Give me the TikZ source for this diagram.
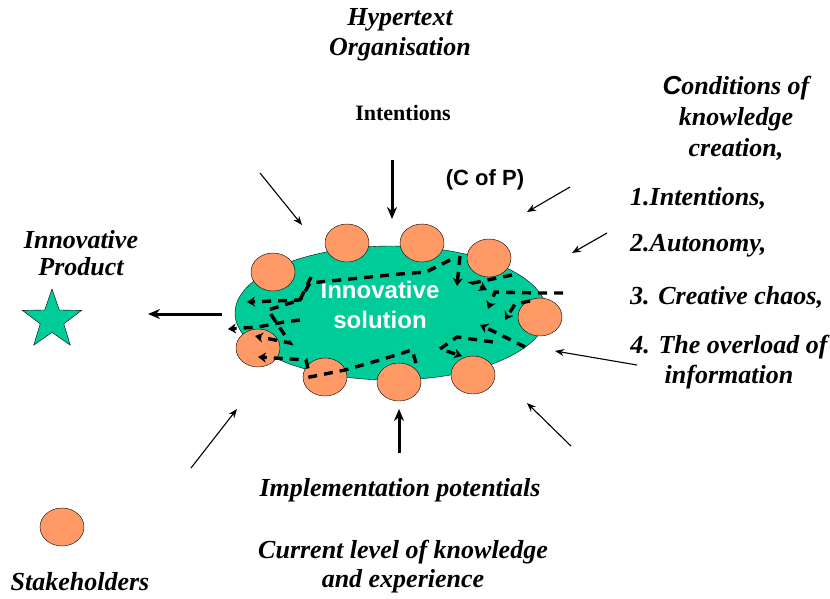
\documentclass[tikz,border=0pt]{standalone}
\usepackage{fontspec}
\setmainfont{Liberation Serif}
\setsansfont{Liberation Sans}
\usetikzlibrary{shapes.geometric,arrows.meta}
\definecolor{solgreen}{RGB}{0,204,153}
\definecolor{peach}{RGB}{255,153,102}

\begin{document}
\begin{tikzpicture}[x=1pt, y=-1pt,
    caption/.style={font=\fontsize{26}{30}\selectfont\bfseries\itshape, align=center, inner sep=0pt},
    member/.style={draw, ellipse, fill=peach, minimum width=44pt, minimum height=38pt, inner sep=0pt},
    pointer/.style={-{Stealth[length=9pt,width=7pt]}, line width=1.1pt},
    bigpointer/.style={-{Stealth[length=12pt,width=10pt]}, line width=3pt},
    flow/.style={-{Stealth[length=8pt,width=10pt]}, line width=3.4pt, dash pattern=on 9pt off 7pt}]
    \useasboundingbox (0,0) rectangle (830,598);

    % the innovative solution with its members
    \node[draw, ellipse, fill=solgreen, minimum width=312pt, minimum height=134pt] (solution) at (391,313) {};
    \node[member] (c1) at (273,272) {};
    \node[member] (c2) at (347,243) {};
    \node[member] (c3) at (422,243) {};
    \node[member] (c4) at (489,258) {};
    \node[member] (c5) at (540,317) {};
    \node[member] (c6) at (473,375) {};
    \node[member] (c7) at (399,382) {};
    \node[member] (c8) at (325,377) {};
    \node[member] (c9) at (258,348) {};
    \node[font=\fontsize{24}{30}\selectfont\sffamily\bfseries, text=white, align=center, inner sep=0pt] (sollabel) at (380,305) {Innovative\\solution};

    % knowledge flowing inside, in no good order
    \coordinate (ra) at (563,293);  \coordinate (ta) at (488,309);
    \coordinate (rb) at (530,301);  \coordinate (tb) at (505,320);
    \coordinate (rc) at (525,347);  \coordinate (tc) at (480,325);
    \coordinate (rd) at (460,256);  \coordinate (td) at (457,286);
    \coordinate (re) at (450,260);  \coordinate (te) at (247,302);
    \coordinate (rf) at (493,342);  \coordinate (tf) at (462,356);
    \coordinate (rg) at (416,363);  \coordinate (tg) at (258,357);
    \coordinate (rh) at (300,320);  \coordinate (th) at (228,329);
    \coordinate (ri) at (512,275);  \coordinate (ti) at (487,290);
    \draw[flow] (ra) -- (537,293) -- (495,292) -- (ta);
    \draw[flow] (rb) -- (515,304) -- (tb);
    \draw[flow] (rc) -- (497,333) -- (tc);
    \draw[flow] (rd) -- (td);
    \draw[flow] (ri) -- (473,283) -- (ti);
    \draw[flow] (re) -- (426,272) -- (400,274) -- (330,281) -- (310,283) -- (300,300) -- (te);
    \draw[flow] (rf) -- (457,337) -- (440,349) -- (tf);
    \draw[flow] (rg) -- (412,350) -- (380,360) -- (345,370) -- (310,377) -- (306,360) -- (tg);
    \draw[flow] (rh) -- (284,322) -- (258,327) -- (th);
    \draw[flow] (311,277) -- (300,300) -- (268,310) -- (290,343) -- (255,336);

    % arrows towards the solution
    \coordinate (nwtail) at (260,173);  \coordinate (nwtip) at (302,225);
    \coordinate (ntail) at (392,160);   \coordinate (ntip) at (392,219);
    \coordinate (netail) at (570,187);  \coordinate (netip) at (527,212);
    \coordinate (etail) at (607,233);   \coordinate (etip) at (572,253);
    \coordinate (setail) at (637,365);  \coordinate (setip) at (555,351);
    \coordinate (sstail) at (571,446);  \coordinate (sstip) at (527,403);
    \coordinate (stail) at (399,453);   \coordinate (stip) at (399,409);
    \coordinate (swtail) at (191,468);  \coordinate (swtip) at (237,409);
    \coordinate (wtail) at (222,314);   \coordinate (wtip) at (148,314);
    \draw[pointer] (nwtail) -- (nwtip);
    \draw[bigpointer] (ntail) -- (ntip);
    \draw[pointer] (netail) -- (netip);
    \draw[pointer] (etail) -- (etip);
    \draw[pointer] (setail) -- (setip);
    \draw[pointer] (sstail) -- (sstip);
    \draw[bigpointer] (stail) -- (stip);
    \draw[pointer] (swtail) -- (swtip);
    \draw[bigpointer] (wtail) -- (wtip);

    % labels round the picture
    \node[caption] (hyper) at (400,35) {Hypertext\\Organisation};
    \node[font=\fontsize{22}{26}\selectfont\bfseries, inner sep=0pt] (intent) at (403,113) {Intentions};
    \node[font=\fontsize{22}{26}\selectfont\sffamily\bfseries, inner sep=0pt] (cofp) at (485,180) {(C of P)};
    \node[caption, font=\fontsize{26}{31}\selectfont\bfseries\itshape] (cond) at (736,118) {{\sffamily C}onditions of\\knowledge\\creation,};
    \node[caption, anchor=west] (i1) at (630,198) {1.Intentions,};
    \node[caption, anchor=west] (i2) at (630,246) {2.Autonomy,};
    \node[caption, anchor=west] (i3) at (630,297) {3. Creative chaos,};
    \node[caption] (i4) at (729,362) {4. The overload of\\information};

    \node[caption, font=\fontsize{26}{27}\selectfont\bfseries\itshape] (prodlabel) at (81,253) {Innovative\\Product};
    \node[draw, star, star points=5, star point ratio=2.5, fill=solgreen, minimum size=62pt, inner sep=0pt] (product) at (52,320) {};

    \node[caption] (impl) at (400,490) {Implementation potentials};
    \node[caption, font=\fontsize{26}{29}\selectfont\bfseries\itshape] (current) at (403,567) {Current level of knowledge\\and experience};

    \node[member] (stake) at (62,527) {};
    \node[caption] (stakelabel) at (80,582) {Stakeholders};
\end{tikzpicture}
\end{document}
